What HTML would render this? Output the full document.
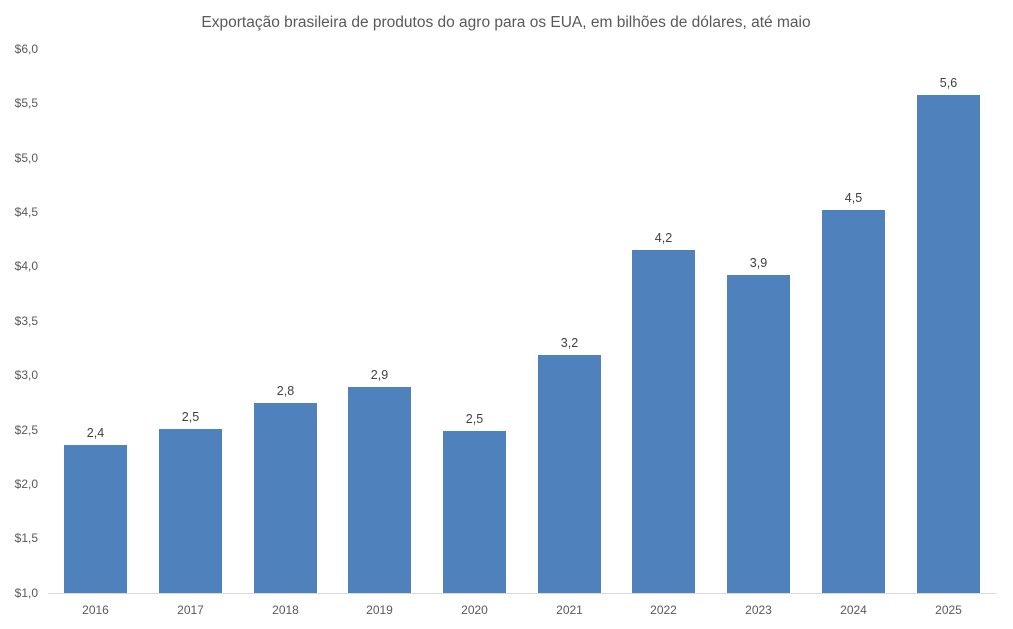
<!DOCTYPE html>
<html><head><meta charset="utf-8"><style>
html,body{margin:0;padding:0;background:#fff;}
svg{display:block;font-family:"Liberation Sans",sans-serif;}
</style></head><body>
<svg width="1013" height="629" viewBox="0 0 1013 629">
<text x="506" y="27" text-anchor="middle" font-size="15.5" fill="#595959">Exportação brasileira de produtos do agro para os EUA, em bilhões de dólares, até maio</text>
<g font-size="12" fill="#595959" text-anchor="end">
<text x="38" y="53">$6,0</text>
<text x="38" y="107">$5,5</text>
<text x="38" y="162">$5,0</text>
<text x="38" y="216">$4,5</text>
<text x="38" y="270">$4,0</text>
<text x="38" y="325">$3,5</text>
<text x="38" y="379">$3,0</text>
<text x="38" y="434">$2,5</text>
<text x="38" y="488">$2,0</text>
<text x="38" y="542">$1,5</text>
<text x="38" y="597">$1,0</text>
</g>
<g fill="#4f81bd">
<rect x="64" y="445" width="63" height="148"/>
<rect x="159" y="429" width="63" height="164"/>
<rect x="254" y="403" width="63" height="190"/>
<rect x="348" y="387" width="63" height="206"/>
<rect x="443" y="431" width="63" height="162"/>
<rect x="538" y="355" width="63" height="238"/>
<rect x="632" y="250" width="63" height="343"/>
<rect x="727" y="275" width="63" height="318"/>
<rect x="822" y="210" width="63" height="383"/>
<rect x="917" y="95" width="63" height="498"/>
</g>
<line x1="48" y1="593.5" x2="996" y2="593.5" stroke="#d9d9d9" stroke-width="1"/>
<g font-size="12.5" fill="#404040" text-anchor="middle">
<text x="95.5" y="437">2,4</text>
<text x="190.5" y="421">2,5</text>
<text x="285.5" y="395">2,8</text>
<text x="379.5" y="379">2,9</text>
<text x="474.5" y="423">2,5</text>
<text x="569.5" y="347">3,2</text>
<text x="663.5" y="242">4,2</text>
<text x="758.5" y="267">3,9</text>
<text x="853.5" y="202">4,5</text>
<text x="948.5" y="87">5,6</text>
</g>
<g font-size="12" fill="#595959" text-anchor="middle">
<text x="95.5" y="614">2016</text>
<text x="190.5" y="614">2017</text>
<text x="285.5" y="614">2018</text>
<text x="379.5" y="614">2019</text>
<text x="474.5" y="614">2020</text>
<text x="569.5" y="614">2021</text>
<text x="663.5" y="614">2022</text>
<text x="758.5" y="614">2023</text>
<text x="853.5" y="614">2024</text>
<text x="948.5" y="614">2025</text>
</g>
</svg>
</body></html>
